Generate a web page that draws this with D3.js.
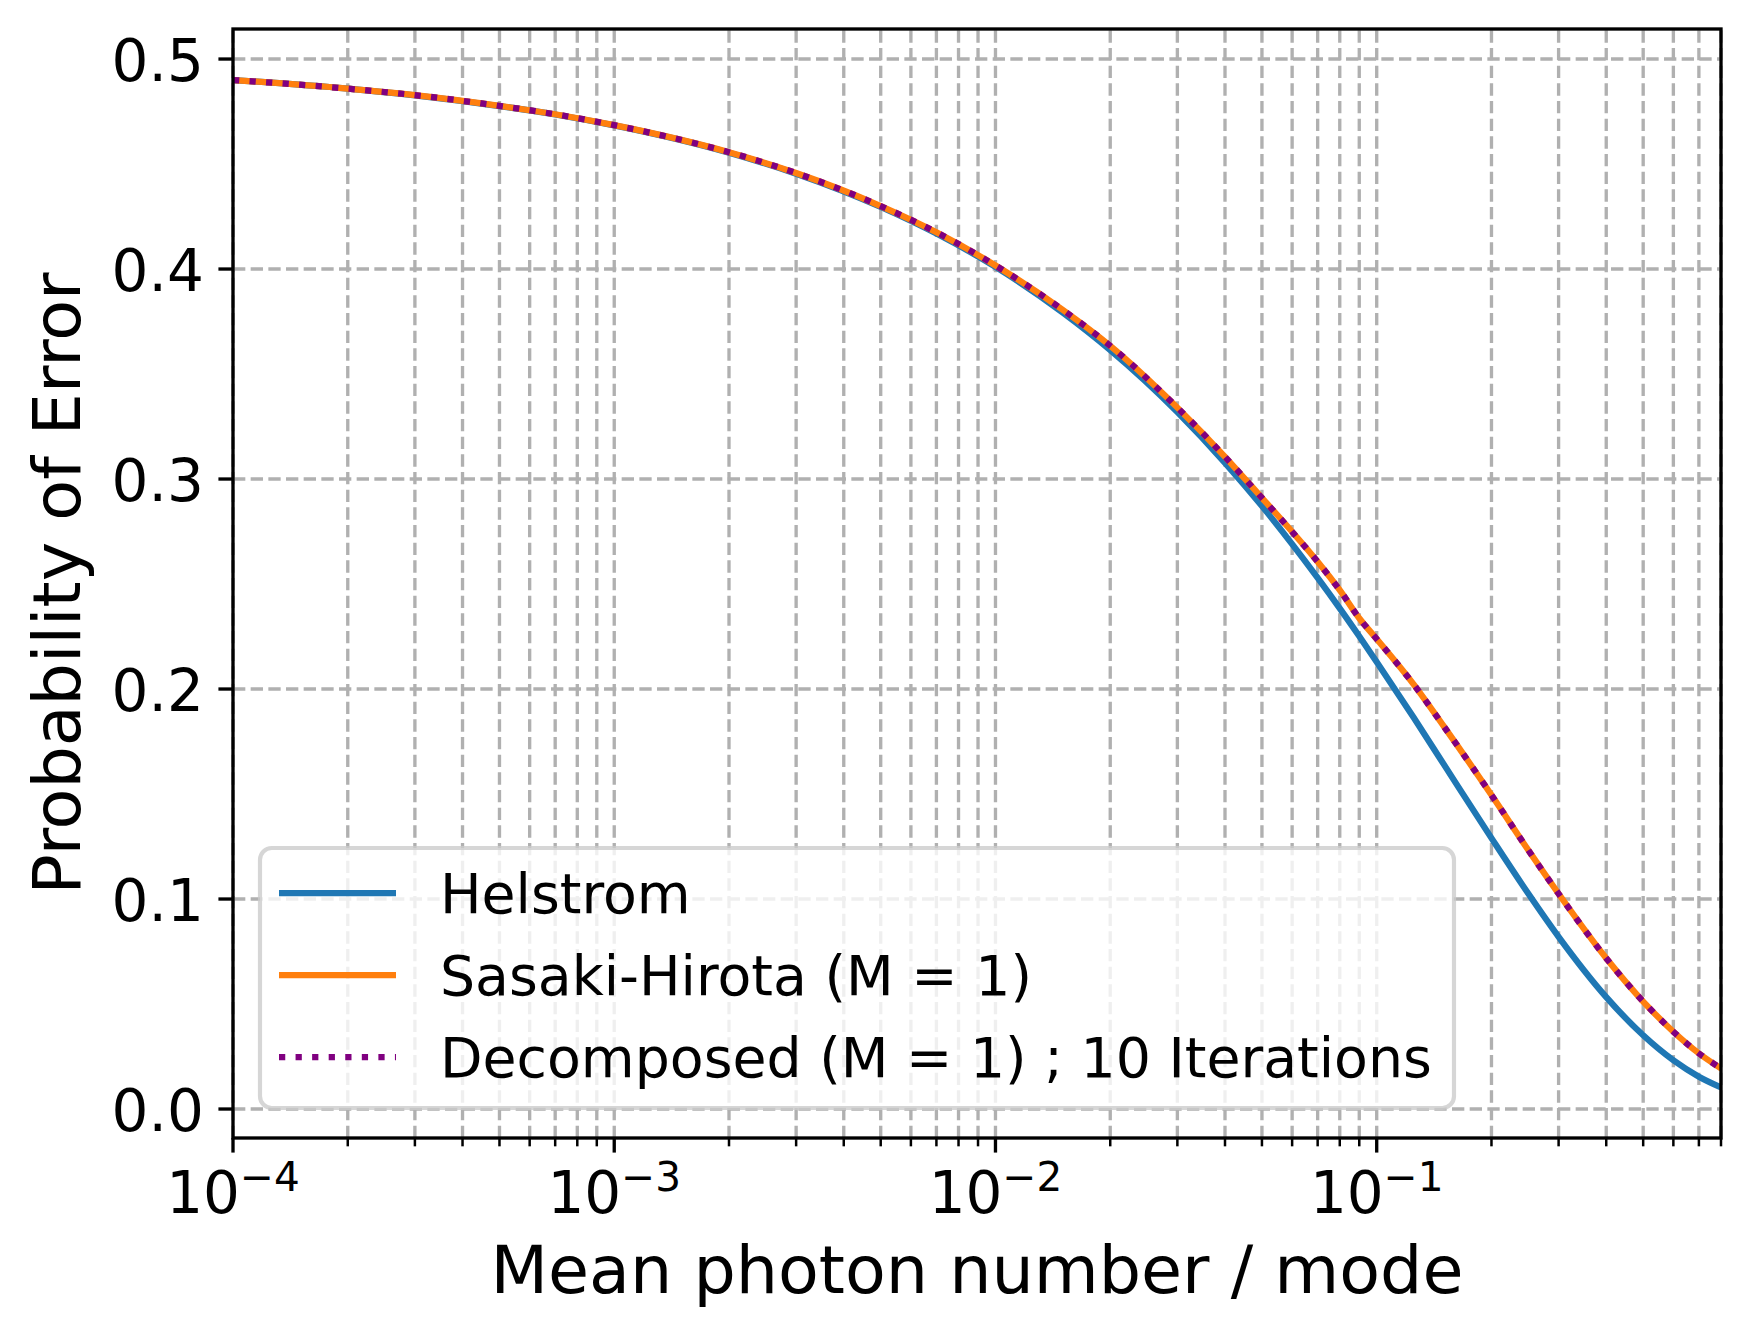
<!DOCTYPE html>
<html>
<head>
<meta charset="utf-8">
<script src="https://cdn.jsdelivr.net/npm/d3@7"></script>
<style>
  html, body { margin: 0; padding: 0; background: #ffffff; }
  svg { display: block; }
</style>
</head>
<body>
<svg id="chart" width="1750" height="1336"></svg>
<script>
// ---------------- data ----------------
const meanPhotonNumber = [1e-4, 2e-4, 3e-4, 5e-4, 7e-4, 1e-3, 2e-3, 3e-3, 5e-3, 7e-3,
  1e-2, 1.5e-2, 2e-2, 3e-2, 4e-2, 5e-2, 6e-2, 7e-2, 8e-2, 9e-2,
  0.1, 0.125, 0.15, 0.2, 0.25, 0.3, 0.4, 0.5, 0.6, 0.7, 0.8];

const helstrom = [0.4900, 0.4859, 0.4827, 0.4776, 0.4736, 0.4684, 0.4554, 0.4454, 0.4296, 0.4169,
  0.4010, 0.3793, 0.3614, 0.3319, 0.3077, 0.2871, 0.2690, 0.2529, 0.2384, 0.2251,
  0.2129, 0.1864, 0.1641, 0.1290, 0.1025, 0.0820, 0.0533, 0.0351, 0.0232, 0.0154, 0.0103];

const sasakiHirota = [0.4900, 0.4859, 0.4828, 0.4777, 0.4737, 0.4685, 0.4556, 0.4457, 0.4300, 0.4175,
  0.4017, 0.3806, 0.3634, 0.3340, 0.3106, 0.2910, 0.2749, 0.2606, 0.2471, 0.2337,
  0.2238, 0.2022, 0.1822, 0.1495, 0.1232, 0.1025, 0.0718, 0.0512, 0.0368, 0.0265, 0.0193];

const decomposed = [0.4900, 0.4859, 0.4828, 0.4777, 0.4737, 0.4685, 0.4556, 0.4457, 0.4300, 0.4175,
  0.4017, 0.3806, 0.3634, 0.3340, 0.3106, 0.2910, 0.2749, 0.2606, 0.2471, 0.2337,
  0.2238, 0.2022, 0.1822, 0.1495, 0.1232, 0.1025, 0.0718, 0.0512, 0.0368, 0.0265, 0.0193];

const seriesNames = ["Helstrom", "Sasaki-Hirota (M = 1)", "Decomposed (M = 1) ; 10 Iterations"];
const seriesColors = ["#1f77b4", "#ff7f0e", "#800080"];

const yTicks = [0.0, 0.1, 0.2, 0.3, 0.4, 0.5];
const yTickLabels = ["0.0", "0.1", "0.2", "0.3", "0.4", "0.5"];
const xMajorTicks = [1e-4, 1e-3, 1e-2, 1e-1];
const xTickBase = "10";
const xTickExponents = ["\u22124", "\u22123", "\u22122", "\u22121"];

const xDomain = [1e-4, 0.8];
const yDomain = [-0.0138, 0.5143];

const xLabel = "Mean photon number / mode";
const yLabel = "Probability of Error";

// ---------------- layout ----------------
const PT = 300 / 72;
const FONT = "DejaVu Sans, Liberation Sans, sans-serif";
const tickFont = 58;
const legendFont = 55.3;
const labelFont = 66.7;
const plot = { left: 233, right: 1721, top: 29, bottom: 1138 };

const svg = d3.select("#chart");
const x = d3.scaleLog().domain(xDomain).range([plot.left, plot.right]);
const y = d3.scaleLinear().domain(yDomain).range([plot.bottom, plot.top]);

// all x grid positions (major + minor)
const xMinorTicks = [];
for (let k = -4; k <= -1; k++) {
  for (let m = 2; m <= 9; m++) {
    const v = m * Math.pow(10, k);
    if (v <= xDomain[1] * 1.0001) xMinorTicks.push(v);
  }
}
const xAllTicks = xMajorTicks.concat(xMinorTicks);

// ---------------- grid ----------------
const gridG = svg.append("g");
const gridStyle = sel => sel.attr("stroke", "#b0b0b0")
  .attr("stroke-width", 0.8 * PT)
  .attr("stroke-dasharray", `${3.7 * 0.8 * PT},${1.6 * 0.8 * PT}`)
  .attr("fill", "none");

gridG.selectAll("line.vx").data(xAllTicks).join("line")
  .attr("class", "vx")
  .attr("x1", d => x(d)).attr("x2", d => x(d))
  .attr("y1", plot.bottom).attr("y2", plot.top)
  .call(gridStyle);

gridG.selectAll("line.hy").data(yTicks).join("line")
  .attr("class", "hy")
  .attr("x1", plot.left).attr("x2", plot.right)
  .attr("y1", d => y(d)).attr("y2", d => y(d))
  .call(gridStyle);

// ---------------- curves ----------------
svg.append("defs").append("clipPath").attr("id", "clip")
  .append("rect").attr("x", plot.left).attr("y", plot.top)
  .attr("width", plot.right - plot.left).attr("height", plot.bottom - plot.top);

const line = d3.line()
  .x(d => x(d[0]))
  .y(d => y(d[1]))
  .curve(d3.curveMonotoneX);

const seriesData = [helstrom, sasakiHirota, decomposed].map(vals =>
  meanPhotonNumber.map((n, i) => [n, vals[i]]));

const curvesG = svg.append("g").attr("clip-path", "url(#clip)");
const lw = 1.5 * PT;
seriesData.forEach((data, i) => {
  const p = curvesG.append("path")
    .datum(data)
    .attr("d", line)
    .attr("fill", "none")
    .attr("stroke", seriesColors[i])
    .attr("stroke-width", lw)
    .attr("stroke-linejoin", "round");
  if (i === 2) {
    p.attr("stroke-dasharray", `${1 * lw},${1.65 * lw}`).attr("stroke-linecap", "butt");
  } else {
    p.attr("stroke-linecap", "square");
  }
});

// ---------------- spines ----------------
svg.append("rect")
  .attr("x", plot.left).attr("y", plot.top)
  .attr("width", plot.right - plot.left).attr("height", plot.bottom - plot.top)
  .attr("fill", "none").attr("stroke", "#000").attr("stroke-width", 0.8 * PT)
  .attr("stroke-linejoin", "miter");

// ---------------- ticks ----------------
const tickG = svg.append("g");
const majorLen = 3.5 * PT, minorLen = 2 * PT;

tickG.selectAll("line.xmaj").data(xMajorTicks).join("line")
  .attr("x1", d => x(d)).attr("x2", d => x(d))
  .attr("y1", plot.bottom).attr("y2", plot.bottom + majorLen)
  .attr("stroke", "#000").attr("stroke-width", 0.8 * PT);

tickG.selectAll("line.xmin").data(xMinorTicks).join("line")
  .attr("x1", d => x(d)).attr("x2", d => x(d))
  .attr("y1", plot.bottom).attr("y2", plot.bottom + minorLen)
  .attr("stroke", "#000").attr("stroke-width", 0.6 * PT);

tickG.selectAll("line.ymaj").data(yTicks).join("line")
  .attr("x1", plot.left - majorLen).attr("x2", plot.left)
  .attr("y1", d => y(d)).attr("y2", d => y(d))
  .attr("stroke", "#000").attr("stroke-width", 0.8 * PT);

// y tick labels
tickG.selectAll("text.ylab").data(yTicks).join("text")
  .attr("x", plot.left - majorLen - 3.5 * PT)
  .attr("y", d => y(d) + 0.375 * tickFont)
  .attr("text-anchor", "end")
  .attr("font-family", FONT).attr("font-size", tickFont).attr("fill", "#000")
  .text((d, i) => yTickLabels[i]);

// x tick labels (10^k)
xMajorTicks.forEach((v, i) => {
  const t = tickG.append("text")
    .attr("x", x(v)).attr("y", 1213)
    .attr("text-anchor", "middle")
    .attr("font-family", FONT).attr("font-size", tickFont).attr("fill", "#000");
  t.append("tspan").text(xTickBase);
  t.append("tspan").attr("dy", -22).attr("font-size", tickFont * 0.7).text(xTickExponents[i]);
});

// axis labels
svg.append("text")
  .attr("x", (plot.left + plot.right) / 2).attr("y", 1293)
  .attr("text-anchor", "middle")
  .attr("font-family", FONT).attr("font-size", labelFont).attr("fill", "#000")
  .text(xLabel);

const ylx = 80, yly = (plot.top + plot.bottom) / 2;
svg.append("text")
  .attr("x", ylx).attr("y", yly)
  .attr("transform", `rotate(-90, ${ylx}, ${yly})`)
  .attr("text-anchor", "middle")
  .attr("font-family", FONT).attr("font-size", labelFont).attr("fill", "#000")
  .text(yLabel);

// ---------------- legend ----------------
const legG = svg.append("g");
legG.append("rect")
  .attr("x", 260).attr("y", 848).attr("width", 1194).attr("height", 260)
  .attr("rx", 11.7).attr("ry", 11.7)
  .attr("fill", "#ffffff").attr("fill-opacity", 0.8)
  .attr("stroke", "#cccccc").attr("stroke-opacity", 0.8)
  .attr("stroke-width", 1.0 * PT);

const legRows = [893, 975, 1057];
seriesNames.forEach((name, i) => {
  const ly = legRows[i];
  const h = legG.append("line")
    .attr("x1", 279).attr("x2", 396)
    .attr("y1", ly).attr("y2", ly)
    .attr("stroke", seriesColors[i]).attr("stroke-width", lw);
  if (i === 2) h.attr("stroke-dasharray", `${1 * lw},${1.65 * lw}`);
  legG.append("text")
    .attr("x", 440).attr("y", ly + 0.365 * legendFont)
    .attr("font-family", FONT).attr("font-size", legendFont).attr("fill", "#000")
    .text(name);
});
</script>
</body>
</html>
